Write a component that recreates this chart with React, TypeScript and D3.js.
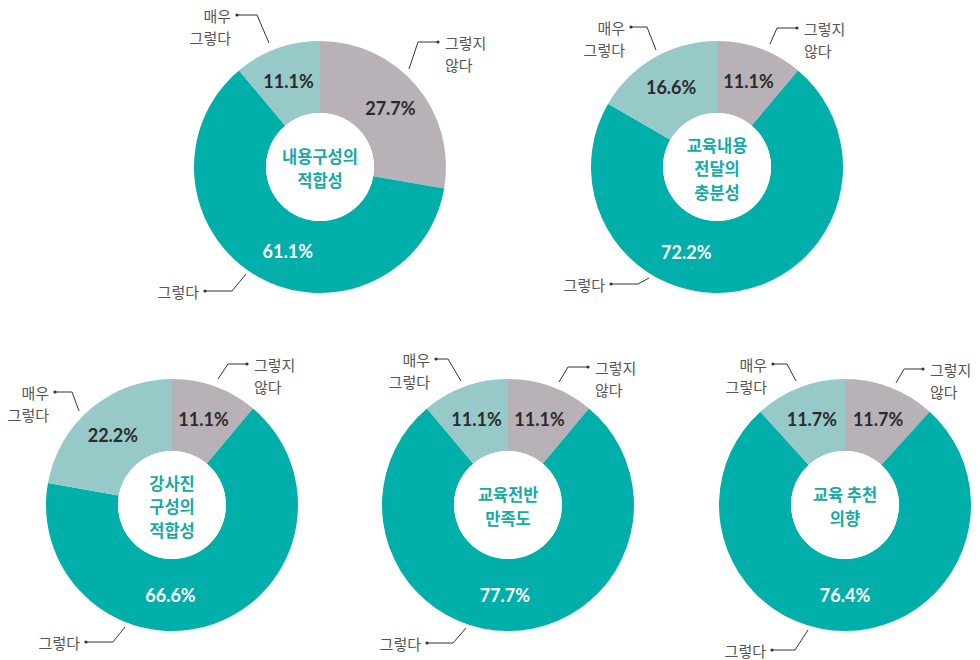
import React from 'react';
import * as d3 from 'd3';

// 만족도 설문 결과 (%)
const categories = ['그렇지 않다', '그렇다', '매우 그렇다'];
const titles = [
  ['내용구성의', '적합성'],
  ['교육내용', '전달의', '충분성'],
  ['강사진', '구성의', '적합성'],
  ['교육전반', '만족도'],
  ['교육 추천', '의향'],
];
const disagreeValues = [27.7, 11.1, 11.1, 11.1, 11.7];
const agreeValues = [61.1, 72.2, 66.6, 77.7, 76.4];
const stronglyValues = [11.1, 16.6, 22.2, 11.1, 11.7];

const colors = ['#b9b1b8', '#00aeaa', '#96c9c8'];
const labelColors = ['#2b2b2b', '#ffffff', '#2b2b2b'];

// layout
const centers = [
  [320, 167],
  [717, 167],
  [172, 505],
  [508, 505],
  [845, 505],
];
const outerR = 126;
const innerR = 54;
// angle (deg) used for the big "그렇다" value label
const agreeLabelAngle = [201, 200, 181, 182, 180];

// leader lines: [start, elbow, dot] offsets from chart center, per category
type P = [number, number];
const leaders: P[][][] = [
  [[[89, -98], [98, -125], [118, -125]], [[-74, 107], [-88, 124], [-115, 124]], [[-51, -124], [-63, -152], [-83, -152]]],
  [[[53, -123], [60, -139], [80, -139]], [[-68, 111], [-79, 117], [-106, 117]], [[-61, -117], [-70, -140], [-86, -140]]],
  [[[46, -126], [56, -141], [75, -141]], [[-47, 122], [-59, 137], [-86, 137]], [[-93, -94], [-100, -113], [-117, -113]]],
  [[[51, -123], [60, -138], [80, -138]], [[-42, 123], [-55, 138], [-81, 138]], [[-47, -124], [-60, -146], [-72, -146]]],
  [[[51, -122], [59, -136], [78, -136]], [[-37, 125], [-50, 145], [-73, 145]], [[-49, -124], [-58, -141], [-72, -141]]],
];

const pie = d3.pie<number>().sort(null).value((d) => d);
const arc = d3.arc<d3.PieArcDatum<number>>().innerRadius(innerR).outerRadius(outerR);

const polar = (deg: number, r: number): P => {
  const a = (deg * Math.PI) / 180;
  return [r * Math.sin(a), -r * Math.cos(a)];
};

const Donut = ({ idx }: { idx: number }) => {
  const [cx, cy] = centers[idx];
  const vals = [disagreeValues[idx], agreeValues[idx], stronglyValues[idx]];
  const arcs = pie(vals);
  const title = titles[idx];
  const lineH = 23.5;
  return (
    <g transform={`translate(${cx},${cy})`}>
      {arcs.map((a, i) => (
        <path key={i} d={arc(a) || ''} fill={colors[i]} />
      ))}
      <circle r={innerR} fill="#fff" />
      {arcs.map((a, i) => {
        const mid = (((a.startAngle + a.endAngle) / 2) * 180) / Math.PI;
        const [x, y] = i === 1 ? polar(agreeLabelAngle[idx], 90) : polar(mid, 92);
        return (
          <text
            key={i}
            x={x}
            y={y}
            textAnchor="middle"
            dominantBaseline="central"
            fontFamily="Lato, 'Noto Sans', sans-serif"
            fontWeight={700}
            fontSize={18}
            fill={labelColors[i]}
          >
            {vals[i].toFixed(1)}%
          </text>
        );
      })}
      {title.map((t, i) => (
        <text
          key={i}
          x={0}
          y={(i - (title.length - 1) / 2) * lineH + 1}
          textAnchor="middle"
          dominantBaseline="central"
          fontFamily="'Noto Sans CJK KR', sans-serif"
          fontWeight={700}
          fontSize={16.5}
          fill="#17a9a4"
        >
          {t}
        </text>
      ))}
      {leaders[idx].map((pts, i) => {
        const [, e, d] = pts;
        const right = d[0] > e[0];
        const words = categories[i].split(' ');
        const tx = right ? d[0] + 7 : d[0] - 6;
        return (
          <g key={i}>
            <polyline
              points={pts.map((p) => p.join(',')).join(' ')}
              fill="none"
              stroke="#333"
              strokeWidth={1}
            />
            <circle cx={d[0]} cy={d[1]} r={1.6} fill="#333" />
            {words.map((w, j) => (
              <text
                key={j}
                x={tx}
                y={d[1] + j * 22.5}
                textAnchor={right ? 'start' : 'end'}
                dominantBaseline="central"
                fontFamily="'Noto Sans CJK KR', sans-serif"
                fontSize={15}
                fill="#555"
              >
                {w}
              </text>
            ))}
          </g>
        );
      })}
    </g>
  );
};

export default function App() {
  return (
    <svg
      width={980}
      height={660}
      style={{ position: 'absolute', left: 0, top: 0, background: '#fff' }}
    >
      {titles.map((_, i) => (
        <Donut key={i} idx={i} />
      ))}
    </svg>
  );
}
